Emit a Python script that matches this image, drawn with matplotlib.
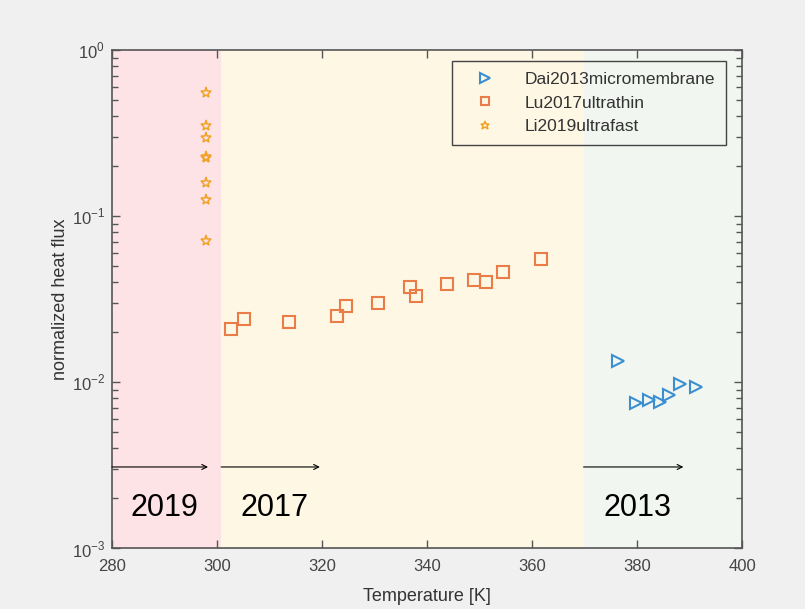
import numpy as np
import matplotlib
matplotlib.use("Agg")
from matplotlib import pyplot
from matplotlib.ticker import FixedLocator, NullFormatter

# Li2019ultrafast (stars)
li_T = [298, 298, 298, 298, 298, 298, 298, 298]
li_q = [0.55, 0.348, 0.295, 0.227, 0.223, 0.158, 0.125, 0.0707]

# Lu2017ultrathin (squares)
lu_T = [302.6, 305.2, 313.7, 322.9, 324.6, 330.7, 336.8, 337.9, 343.8, 349.0, 351.2, 354.5, 361.7]
lu_q = [0.0209, 0.0241, 0.0231, 0.0251, 0.0288, 0.0300, 0.0375, 0.0331, 0.0391, 0.0413, 0.0398, 0.0458, 0.0551]

# Dai2013micromembrane (triangles)
dai_T = [376.4, 379.7, 382.3, 384.4, 386.1, 388.2, 391.2]
dai_q = [0.0134, 0.0075, 0.0078, 0.0076, 0.00835, 0.0098, 0.0093]

# year regions: (start, end, arrow end, label x, label)
regions = [(280, 300.8, 298.3, 290, '2019'),
           (300.8, 369.8, 319.6, 311, '2017'),
           (369.8, 400, 388.8, 380, '2013')]
region_colors = ['#fde3e6', '#fdf7e4', '#f2f6f1']

pyplot.rcParams['font.family'] = ['Liberation Sans', 'DejaVu Sans']
pyplot.rcParams['mathtext.fontset'] = 'custom'
pyplot.rcParams['mathtext.rm'] = 'Liberation Sans'

fig = pyplot.figure(figsize=(8.05, 6.09), dpi=100, facecolor='#f0f0f0')
ax = fig.add_axes([0.139, 0.100, 0.783, 0.818])

for (x0, x1, xa, xl, lab), col in zip(regions, region_colors):
    ax.axvspan(x0, x1, color=col, lw=0, zorder=0)
    ax.annotate('', xy=(xa, 0.00308), xytext=(x0, 0.00308),
                arrowprops=dict(arrowstyle='->', color='k', lw=0.8, mutation_scale=9,
                                shrinkA=0, shrinkB=0))
    ax.text(xl, 0.00175, lab, fontsize=22, ha='center', va='center', color='k')

ax.plot(dai_T, dai_q, ls='none', marker='>', ms=9, mfc='none', mec='#3b8fd0', mew=1.5,
        label='Dai2013micromembrane')
ax.plot(lu_T, lu_q, ls='none', marker='s', ms=8, mfc='none', mec='#ea7c47', mew=1.5,
        label='Lu2017ultrathin')
ax.plot(li_T, li_q, ls='none', marker='*', ms=8, mfc='none', mec='#f0a226', mew=1.1,
        label='Li2019ultrafast')

ax.set_yscale('log')
ax.set_xlim(280, 400)
ax.set_ylim(1e-3, 1)
ax.set_xticks(np.arange(280, 401, 20))
decades = [1e-3, 1e-2, 1e-1, 1]
ax.yaxis.set_major_locator(FixedLocator(decades))
minor = [m * d for d in decades[:-1] for m in range(2, 10)]
ax.yaxis.set_minor_locator(FixedLocator(minor))
ax.yaxis.set_minor_formatter(NullFormatter())
ax.set_yticklabels(['$10^{-3}$', '$10^{-2}$', '$10^{-1}$', '$10^{0}$'])
ax.tick_params(which='both', direction='in', top=True, right=True, colors='#555555',
               labelcolor='#444444', labelsize=12)
ax.tick_params(which='major', length=6, width=1.0)
ax.tick_params(which='minor', length=4, width=1.0)
ax.tick_params(axis='x', pad=8)
ax.tick_params(axis='y', pad=5)
for s in ax.spines.values():
    s.set_color('#555555')
    s.set_linewidth(1.2)

ax.set_xlabel('Temperature [K]', fontsize=13, color='#333333', labelpad=10)
ax.set_ylabel('normalized heat flux', fontsize=13, color='#333333', labelpad=2)

leg = ax.legend(loc='upper right', bbox_to_anchor=(0.988, 0.995), fontsize=12.5,
                fancybox=False, framealpha=1, facecolor='none', edgecolor='#444444',
                borderpad=0.6, handletextpad=1.0, labelspacing=0.5, handlelength=2.6,
                markerscale=0.8)
leg.get_frame().set_linewidth(1.0)
for t in leg.get_texts():
    t.set_color('#333333')

pyplot.savefig('out.png', dpi=100, facecolor=fig.get_facecolor())
